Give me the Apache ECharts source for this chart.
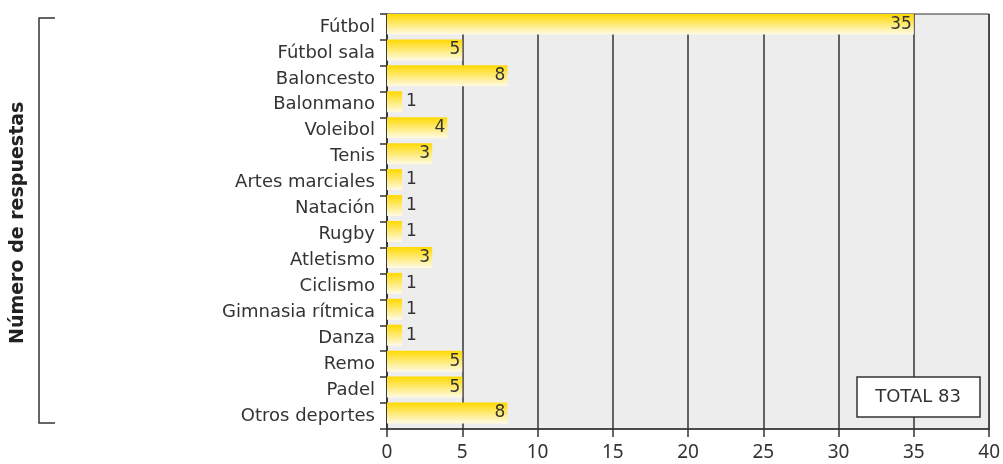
<!DOCTYPE html>
<html>
<head>
<meta charset="utf-8">
<script src="https://cdn.jsdelivr.net/npm/echarts@6/dist/echarts.min.js"></script>
<style>
  html, body { margin: 0; padding: 0; background: #fff; }
  #chart { width: 1003px; height: 464px; }
</style>
</head>
<body>
<div id="chart"></div>
<script>
// datos
const deportes = ['Fútbol', 'Fútbol sala', 'Baloncesto', 'Balonmano', 'Voleibol', 'Tenis',
  'Artes marciales', 'Natación', 'Rugby', 'Atletismo', 'Ciclismo', 'Gimnasia rítmica',
  'Danza', 'Remo', 'Padel', 'Otros deportes']
const respuestas = [35, 5, 8, 1, 4, 3, 1, 1, 1, 3, 1, 1, 1, 5, 5, 8]
const total = 83

const fuente = '"DejaVu Sans", sans-serif'
const chart = echarts.init(document.getElementById('chart'))

const barData = respuestas.map(v => ({
  value: v,
  label: v < 3 ? { position: 'right', distance: 4 } : { position: 'insideRight', distance: 2 }
}))

chart.setOption({
  animation: false,
  grid: {
    left: 387, right: 12, top: 14, bottom: 35,
    show: true,
    backgroundColor: '#ededed',
    borderColor: '#333',
    borderWidth: 1
  },
  xAxis: {
    type: 'value',
    min: 0, max: 40, interval: 5,
    axisLine: { show: true, lineStyle: { color: '#333', width: 1.5 } },
    axisTick: { show: true, length: 8, lineStyle: { color: '#333', width: 1.5 } },
    axisLabel: { color: '#333', fontSize: 19, fontFamily: '"Noto Sans", sans-serif', margin: 14 },
    splitLine: { show: true, lineStyle: { color: '#333', width: 1.5 } }
  },
  yAxis: {
    type: 'category',
    data: deportes,
    inverse: true,
    axisLine: { show: true, lineStyle: { color: '#333', width: 1.5 } },
    axisTick: { show: true, length: 7, lineStyle: { color: '#333', width: 1.5 } },
    axisLabel: { color: '#333', fontSize: 18, fontFamily: fuente, margin: 12 }
  },
  series: [
    {
      type: 'bar',
      data: barData,
      barWidth: 21,
      barGap: 0,
      itemStyle: {
        color: new echarts.graphic.LinearGradient(0, 0, 0, 1, [
          { offset: 0, color: '#ffd900' },
          { offset: 1, color: '#fffbe6' }
        ])
      },
      label: {
        show: true,
        color: '#333',
        fontSize: 17,
        fontFamily: fuente
      }
    },
    {
      // serie vacía, solo desplaza las barras hacia arriba
      type: 'bar',
      data: deportes.map(() => '-'),
      barWidth: 6,
      silent: true
    }
  ],
  graphic: [
    {
      type: 'text',
      x: 9, y: 344,
      rotation: Math.PI / 2,
      style: {
        text: 'Número de respuestas',
        font: 'bold 19px ' + fuente,
        fill: '#222'
      }
    },
    {
      type: 'polyline',
      shape: { points: [[55, 18], [39, 18], [39, 423], [55, 423]] },
      style: { stroke: '#333', lineWidth: 1.5, fill: null }
    },
    {
      type: 'rect',
      shape: { x: 857, y: 377, width: 123, height: 40 },
      style: { fill: '#fff', stroke: '#333', lineWidth: 1.5 },
      z: 100
    },
    {
      type: 'text',
      x: 918, y: 397,
      style: {
        text: 'TOTAL ' + total,
        font: '18px ' + fuente,
        fill: '#333',
        align: 'center',
        verticalAlign: 'middle'
      },
      z: 101
    }
  ]
})
</script>
</body>
</html>
